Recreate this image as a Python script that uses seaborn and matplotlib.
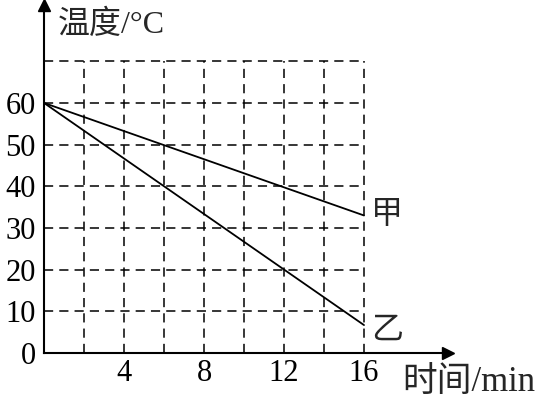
import matplotlib
matplotlib.use("Agg")
import matplotlib.pyplot as plt
import seaborn as sns
import pandas as pd

# data
time_min = [0, 16]
jia_temp = [60, 33]
yi_temp = [60, 6.7]
x_ticks = [4, 8, 12, 16]
y_ticks = [0, 10, 20, 30, 40, 50, 60]
grid_x = [2, 4, 6, 8, 10, 12, 14, 16]
grid_y = [10, 20, 30, 40, 50, 60, 70]

sns.set_theme(style="white")
fam = ["Liberation Serif", "Noto Sans CJK SC", "DejaVu Sans"]
plt.rcParams["font.family"] = fam

df = pd.DataFrame({
    "time": time_min * 2,
    "temp": jia_temp + yi_temp,
    "series": ["甲"] * len(time_min) + ["乙"] * len(time_min),
})

fig = plt.figure(figsize=(5.48, 3.97), dpi=100)
ax = fig.add_axes([44 / 548, 44 / 397, 404 / 548, 348 / 397])

# dashed grid
for gx in grid_x:
    ax.plot([gx, gx], [0, 70], color="black", lw=1.1, ls=(0, (6, 4)), zorder=1)
for gy in grid_y:
    ax.plot([0, 16], [gy, gy], color="black", lw=1.1, ls=(0, (6, 4)), zorder=1)

sns.lineplot(data=df, x="time", y="temp", hue="series",
             palette={"甲": "black", "乙": "black"}, lw=1.3,
             legend=False, ax=ax, zorder=3)

ax.set_xlim(0, 20.2)
ax.set_ylim(0, 83.5)
ax.set_xticks(x_ticks)
ax.set_yticks(y_ticks)
ax.set_xticklabels([str(t) for t in x_ticks], fontsize=22, family=fam)
ax.set_yticklabels([str(t) for t in y_ticks], fontsize=22, family=fam)
ax.tick_params(axis="both", length=0, colors="black")
ax.tick_params(axis="x", pad=4)
ax.tick_params(axis="y", pad=6)
ax.set_xlabel("")
ax.set_ylabel("")

for s in ["top", "right"]:
    ax.spines[s].set_visible(False)
for s in ["left", "bottom"]:
    ax.spines[s].set_color("black")
    ax.spines[s].set_linewidth(1.5)

# arrowheads
ax.plot(1, 0, marker=">", color="black", markersize=9, transform=ax.transAxes, clip_on=False)
ax.plot(0, 1, marker="^", color="black", markersize=9, transform=ax.transAxes, clip_on=False)

ax.text(16.35, 33, "甲", fontsize=23, family=fam, ha="left", va="center")
ax.text(16.35, 5.3, "乙", fontsize=23, family=fam, ha="left", va="center")

fig.text(58 / 548, 1 - 25 / 397, "温度/°C", fontsize=23, family=fam, ha="left", va="center")
fig.text(402 / 548, 1 - 382 / 397, "时间/min", fontsize=25, family=fam, ha="left", va="center")

fig.savefig("out.png", dpi=100, facecolor="white")
